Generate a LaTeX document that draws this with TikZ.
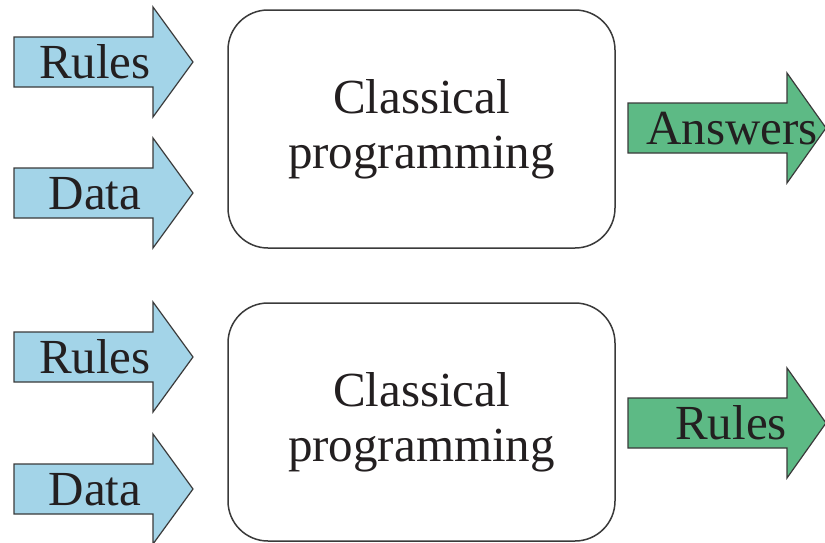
\documentclass[tikz,border=0pt]{standalone}
\usepackage{fontspec}
\setmainfont{Liberation Serif}
\definecolor{inblue}{HTML}{A3D4E8}
\definecolor{outgreen}{HTML}{5DBA85}
\definecolor{edge}{HTML}{3A3A3A}
\definecolor{ink}{HTML}{231F20}
\tikzset{
  bigtext/.style={font=\fontsize{49}{55}\selectfont, text=ink, inner sep=0pt},
  procbox/.style={draw=edge, line width=1.5pt, rounded corners=40pt, fill=white,
    minimum width=387pt, minimum height=238pt, align=center,
    font=\fontsize{49}{55}\selectfont, text=ink, inner sep=0pt},
  fatarrow/.style={draw=edge, line width=1.2pt, line join=miter}
}
% #1 name, #2 fill, #3 shaft start x, #4 head base x, #5 tip x, #6 centre y, #7 label x, #8 label
\newcommand\flowarrow[8]{%
  \draw[fatarrow, fill=#2] (#3,#6-25) -- (#4,#6-25) -- (#4,#6-55) -- (#5,#6)
    -- (#4,#6+55) -- (#4,#6+25) -- (#3,#6+25) -- cycle;
  \node[bigtext, anchor=base] (#1) at (#7,#6+16.5) {#8};
}
\begin{document}
\begin{tikzpicture}[x=1pt,y=-1pt]
\useasboundingbox (0,0) rectangle (825,542);

% upper block
\node[procbox] (prog1) at (421.5,129) {Classical\\programming};
\flowarrow{rules1}{inblue}{14}{153}{193}{62}{95}{Rules}
\flowarrow{data1}{inblue}{14}{153}{193}{193}{95}{Data}
\flowarrow{answers1}{outgreen}{628}{787}{826}{128}{732}{Answers}

% lower block
\node[procbox] (prog2) at (421.5,422) {Classical\\programming};
\flowarrow{rules2}{inblue}{14}{153}{193}{357}{95}{Rules}
\flowarrow{data2}{inblue}{14}{153}{193}{489}{95}{Data}
\flowarrow{rules3}{outgreen}{628}{787}{826}{423}{731}{Rules}
\end{tikzpicture}
\end{document}
